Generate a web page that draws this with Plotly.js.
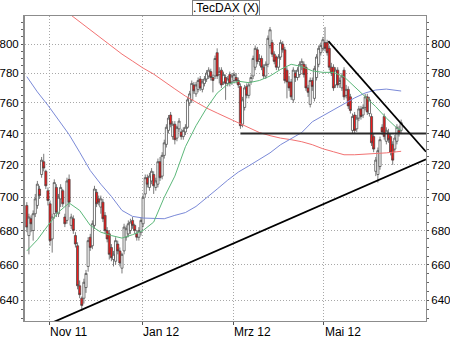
<!DOCTYPE html>
<html><head><meta charset="utf-8">
<script src="https://cdn.plot.ly/plotly-3.0.1.min.js"></script>
<style>html,body{margin:0;padding:0;background:#fff;} #chart{width:450px;height:338px;}</style>
</head><body><div id="chart"></div>
<script>
const startDay = '2011-10-17';
const open = [695,677,687,680,690,695,705,714,722,716,704,696,675,690,706,690,699,704,688,686,711,683,687,677,671,648,641,641,647,659,676,671,683,703,699,694,697,689,680,678,670,663,662,672,668,658,668,676,678,680,686,683,678,676,679,684,702,712,706,710,714,706,708,722,713,726,733,742,752,738,746,737,743,741,738,741,744,760,762,772,766,769,776,769,773,776,778,781,777,778,794,779,782,774,777,773,779,774,775,777,775,771,746,757,771,765,774,778,784,796,788,790,784,778,786,799,801,793,791,784,791,800,796,782,774,774,762,780,777,779,786,786,784,770,759,775,763,777,786,794,797,801,801,797,784,784,772,782,773,770,782,765,769,764,742,752,743,750,756,752,757,764,753,751,738,716,714,719,744,751,735,740,738,733,730,735,742,742];
const high = [697,690,689,692,702,710,707,725,727,717,706,698,690,711,708,702,708,705,690,712,714,690,689,679,673,651,642,652,657,676,678,686,707,705,701,701,699,691,682,680,672,668,676,674,670,667,684,683,686,687,688,684,680,682,688,702,714,714,715,718,716,712,724,725,728,736,746,752,754,748,748,745,750,743,744,746,764,768,775,774,774,777,778,776,778,782,784,783,779,792,797,784,784,781,779,778,781,780,781,780,777,773,764,772,773,774,779,792,799,798,793,792,786,788,806,812,803,795,792,793,803,802,798,784,778,776,784,782,784,788,790,788,786,772,777,777,785,793,799,801,805,812,803,799,787,786,784,784,777,780,784,772,771,766,753,754,752,758,758,759,766,766,764,753,740,725,731,738,746,753,744,743,740,735,739,746,745,749];
const low = [679,666,679,674,688,693,699,712,716,705,695,671,667,687,688,688,694,694,682,684,694,681,678,670,646,641,634,638,644,656,668,669,681,694,695,690,685,678,673,663,662,659,660,666,659,655,666,674,676,678,681,678,674,674,677,682,700,706,704,708,702,704,706,710,711,724,731,740,744,736,733,735,741,736,736,739,743,758,760,766,764,767,768,767,771,774,776,775,767,776,776,773,770,772,762,771,771,772,773,773,770,743,744,755,763,763,772,776,782,786,785,782,776,776,784,797,791,786,782,782,789,794,773,763,768,762,760,774,775,777,782,777,768,764,757,768,761,775,784,792,795,795,792,782,778,768,770,770,770,768,762,763,756,753,740,740,741,748,749,750,755,752,751,732,728,713,709,717,739,736,733,734,726,720,728,733,738,740];
const close = [682,688,684,690,699,708,701,723,718,707,698,674,688,709,691,700,706,696,684,710,697,688,680,672,648,643,637,650,655,674,670,684,705,696,697,699,687,680,675,666,664,666,674,668,661,666,682,681,684,685,683,680,676,680,686,700,712,708,713,716,707,710,722,712,726,734,744,750,746,746,736,744,748,738,742,744,762,766,773,768,772,775,770,774,776,780,782,777,775,790,778,781,772,779,773,776,773,778,779,775,772,745,762,770,765,772,777,790,797,788,790,784,778,786,804,810,793,788,784,791,801,796,775,774,770,764,782,777,782,786,788,779,770,767,775,771,783,791,797,799,803,797,794,784,780,770,782,772,775,778,764,769,758,755,751,742,750,756,751,757,764,754,762,734,730,723,729,736,741,738,742,736,728,723,737,744,740,747];

const maIdx = [0,5,10,15,20,25,30,35,40,45,50,55,60,65,70,75,80,85,90,95,100,105,110,115,120,125,130,135,140,145,150,155,160,165,170,175,177];
const maGreen = [668,674.5,683,691,696.5,692,683,679,677,675.5,677.5,680,685,700,713,731.5,745,756.5,766.5,772.5,774.5,773.5,775,778,782.5,786,784.5,781.5,780.5,780.5,777.5,771,764,757.5,750,743.5,742];
const maBlue = [777.6,767.3,758.4,748.7,739.3,728,716.5,708,700.5,692,688.4,687.4,687,687,689,690.7,694.4,699.4,705,710.5,715.5,719.4,723.7,727.6,732.8,736.9,740.6,747.6,751.4,755.3,759.3,763.3,766.6,768.6,769.2,768.6,767.9];
const maRed = [845,839,833,827.3,821.3,815.5,810,804.2,798.3,793,788.2,783.4,779.3,774,769.3,764.5,760.6,756.6,753.3,750,747,743.6,740.6,738.6,737,736,734.7,732.8,730.2,728.3,726.4,726.4,726.7,727,727.6,728.3,728.6];

const yTicks = [640,660,680,700,720,740,760,780,800];
const xTickDates = ['2011-11-01','2012-01-02','2012-03-01','2012-05-01'];
const xTickLabels = ['Nov 11','Jan 12','Mrz 12','Mai 12'];
const supportX = ['2011-11-01 12:00','2012-07-06 06:00'];
const supportY = [627, 723.5];
const resistX = ['2012-05-03 02:24','2012-07-06 06:00'];
const resistY = [802, 728.3];
const levelX = ['2012-03-06 12:00','2012-07-06 06:00'];
const levelY = [740, 740];

function tradingDays(start, n) {
  const out = [];
  const d = new Date(start + 'T12:00:00Z');
  while (out.length < n) {
    const wd = d.getUTCDay();
    if (wd !== 0 && wd !== 6) out.push(d.toISOString().slice(0, 10) + ' 12:00');
    d.setUTCDate(d.getUTCDate() + 1);
  }
  return out;
}
const dates = tradingDays(startDay, close.length);
const maDates = maIdx.map(i => dates[i]);

const minorTicks = [];
for (let v = 630; v <= 815; v += 5) minorTicks.push(v);

const yRange = [Math.log10(628.4), Math.log10(819.8)];
const gridCol = '#a8a8a8';
const axisCol = '#8c8c8c';

const traces = [
  {type:'scatter', mode:'lines', x:maDates, y:maRed, line:{color:'#f27272', width:1}, hoverinfo:'skip'},
  {type:'scatter', mode:'lines', x:maDates, y:maBlue, line:{color:'#7b8ad8', width:1}, hoverinfo:'skip'},
  {type:'scatter', mode:'lines', x:maDates, y:maGreen, line:{color:'#5cb87a', width:1}, hoverinfo:'skip'},
  {type:'candlestick', x:dates, open:open, high:high, low:low, close:close,
   increasing:{line:{color:'#404040', width:0.7}, fillcolor:'#ffffff'},
   decreasing:{line:{color:'#404040', width:0.7}, fillcolor:'#ee1c1c'},
   whiskerwidth:0, hoverinfo:'skip'},
  {type:'scatter', mode:'lines', x:levelX, y:levelY, yaxis:'y2', line:{color:'#2a2a2a', width:1.8}, hoverinfo:'skip'},
  {type:'scatter', mode:'lines', x:supportX, y:supportY, yaxis:'y2', line:{color:'#000', width:1.8}, hoverinfo:'skip'},
  {type:'scatter', mode:'lines', x:resistX, y:resistY, yaxis:'y2', line:{color:'#000', width:1.8}, hoverinfo:'skip'}
];

const yCommon = {
  type:'log', range:yRange, tickmode:'array', tickvals:yTicks, ticktext:yTicks.map(String),
  ticks:'outside', ticklen:2, tickcolor:'#555', zeroline:false, fixedrange:true,
  tickfont:{size:11.5},
  minor:{tickmode:'array', tickvals:minorTicks, ticklen:2, tickcolor:'#666', showgrid:false}
};

const layout = {
  width:450, height:338,
  margin:{l:25, r:24, t:16, b:17, pad:0},
  paper_bgcolor:'#ffffff', plot_bgcolor:'#ffffff',
  showlegend:false,
  boxgap:0,
  boxgroupgap:0,
  font:{family:'"Liberation Sans", Arial, sans-serif', size:12, color:'#000'},
  xaxis:{
    type:'date', range:['2011-10-14 15:36','2012-07-06 06:00'],
    rangebreaks:[{bounds:['sat','mon']}],
    rangeslider:{visible:false},
    tickmode:'array', tickvals:xTickDates, ticktext:xTickLabels,
    ticklabelposition:'outside right', ticks:'outside', ticklen:3, tickcolor:'#555',
    showgrid:true, gridcolor:gridCol, griddash:'1px,2px', gridwidth:1,
    showline:true, linecolor:axisCol, linewidth:1, mirror:true, zeroline:false, fixedrange:true
  },
  yaxis:Object.assign({}, yCommon, {
    side:'left', showgrid:true, gridcolor:gridCol, griddash:'1px,2px', gridwidth:1,
    showline:true, linecolor:axisCol, linewidth:2, ticklabelstandoff:0
  }),
  yaxis2:Object.assign({}, yCommon, {
    side:'right', overlaying:'y', showgrid:false,
    showline:true, linecolor:axisCol, linewidth:1
  }),
  annotations:[{
    text:'.TecDAX (X)', xref:'paper', yref:'paper', x:0.5, y:1, yanchor:'bottom', xanchor:'center',
    showarrow:false, bordercolor:'#808080', borderwidth:1, borderpad:0, bgcolor:'#ffffff',
    font:{size:12, color:'#000'}
  }]
};

Plotly.newPlot('chart', traces, layout, {staticPlot:true, displayModeBar:false});
</script>
</body></html>
